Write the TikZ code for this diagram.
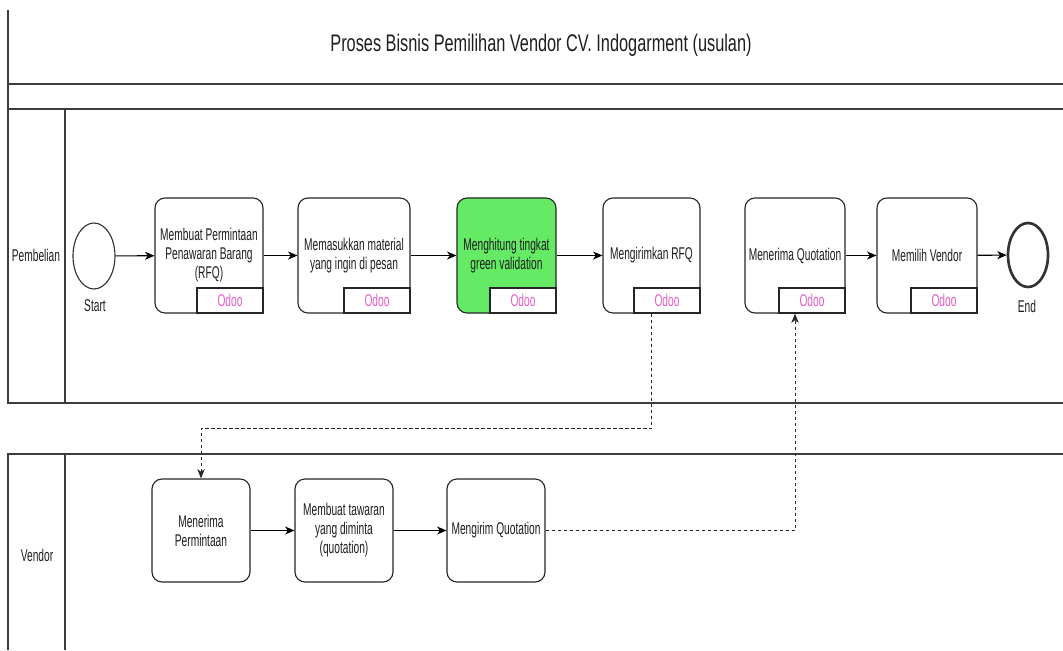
\documentclass[tikz,border=0pt]{standalone}
\usepackage{fontspec}
\setmainfont{Liberation Sans}[FakeStretch=0.6]
\newfontfamily\titlefont{Liberation Sans}[FakeStretch=0.68]
\usetikzlibrary{arrows.meta,shapes.geometric,positioning}

\definecolor{poolline}{RGB}{60,60,60}
\definecolor{inktext}{RGB}{30,30,30}
\definecolor{taskgreen}{RGB}{100,234,100}
\definecolor{odoopink}{RGB}{232,92,200}

\tikzset{
  pool/.style={draw=poolline, line width=1.1pt},
  txt/.style={font=\fontsize{12.75pt}{14.25pt}\selectfont, text=inktext, align=center, inner sep=0pt},
  task/.style={draw=black!85, line width=0.85pt, rounded corners=7.5pt, fill=white,
               minimum height=86.25pt, inner sep=0pt, align=center, text=inktext,
               font=\fontsize{12.75pt}{14.25pt}\selectfont},
  vtask/.style={task, minimum height=77.25pt, minimum width=73.5pt},
  odoo/.style={draw=black!85, line width=0.85pt, fill=white, anchor=south east,
               minimum width=49.5pt, minimum height=18.75pt, inner sep=0pt,
               text=odoopink, font=\fontsize{12.75pt}{14.25pt}\selectfont},
  event/.style={ellipse, draw=black!80, line width=0.85pt, fill=white,
                minimum width=31.5pt, minimum height=49.5pt, inner sep=0pt},
  flow/.style={draw=black, line width=0.85pt, -{Stealth[length=7pt,width=6pt,inset=2pt]}},
  msg/.style={draw=black!85, line width=0.7pt, dash pattern=on 2.5pt off 2pt,
              -{Stealth[length=7pt,width=5.5pt,inset=2pt]}}
}

\begin{document}
\begin{tikzpicture}[x=0.75pt, y=-0.75pt]
\useasboundingbox (0,0) rectangle (1063,650);

% pool frames and lane dividers
\draw[pool] (8,10) -- (8,403) -- (1063,403);
\draw[pool] (8,84) -- (1063,84);
\draw[pool] (8,109) -- (1063,109);
\draw[pool] (65,109) -- (65,403);
\draw[pool] (1063,454) -- (8,454) -- (8,650);
\draw[pool] (65,454) -- (65,650);

% title and lane names
\node[inner sep=0pt, text=inktext, font=\titlefont\fontsize{18pt}{20pt}\selectfont] (title) at (541,45)
  {Proses Bisnis Pemilihan Vendor CV. Indogarment (usulan)};
\node[txt] (lanebeli) at (36,255) {Pembelian};
\node[txt] (lanevendor) at (37,555) {Vendor};

% purchasing lane
\node[event] (start) at (94,256) {};
\node[txt] (startlbl) at (95,306) {Start};

\node[task, minimum width=81pt] (b1) at (209,255.5) {Membuat Permintaan\\Penawaran Barang\\(RFQ)};
\node[odoo] (o1) at (b1.south east) {Odoo};

\node[task, minimum width=84pt] (b2) at (354,255.5) {Memasukkan material\\yang ingin di pesan};
\node[odoo] (o2) at (b2.south east) {Odoo};

\node[task, minimum width=74.25pt, fill=taskgreen] (b3) at (506.5,255.5) {Menghitung tingkat\\green validation};
\node[odoo] (o3) at (b3.south east) {Odoo};

\node[task, minimum width=72.75pt] (b4) at (651.5,255.5) {Mengirimkan RFQ};
\node[odoo] (o4) at (b4.south east) {Odoo};

\node[task, minimum width=75pt] (b5) at (795,255.5) {Menerima Quotation};
\node[odoo] (o5) at (b5.south east) {Odoo};

\node[task, minimum width=75pt] (b6) at (927,255.5) {Memilih Vendor};
\node[odoo] (o6) at (b6.south east) {Odoo};

\node[event, line width=2pt, minimum width=30pt, minimum height=48pt] (end) at (1028,255) {};
\node[txt] (endlbl) at (1027,306) {End};

\draw[flow] (start) -- (b1);
\draw[flow] (b1) -- (b2);
\draw[flow] (b2) -- (b3);
\draw[flow] (b3) -- (b4);
\draw[flow] (b5) -- (b6);
\draw[flow] (b6) -- (end);

% vendor lane
\node[vtask] (v1) at (201,530.5) {Menerima\\Permintaan};
\node[vtask] (v2) at (344,530.5) {Membuat tawaran\\yang diminta\\(quotation)};
\node[vtask] (v3) at (496,530.5) {Mengirim Quotation};

\draw[flow] (v1) -- (v2);
\draw[flow] (v2) -- (v3);

% message flows between the lanes
\draw[msg] (b4.south) -- ++(0,115) -| (v1.north);
\draw[msg] (v3.east) -| (b5.south);

\end{tikzpicture}
\end{document}
